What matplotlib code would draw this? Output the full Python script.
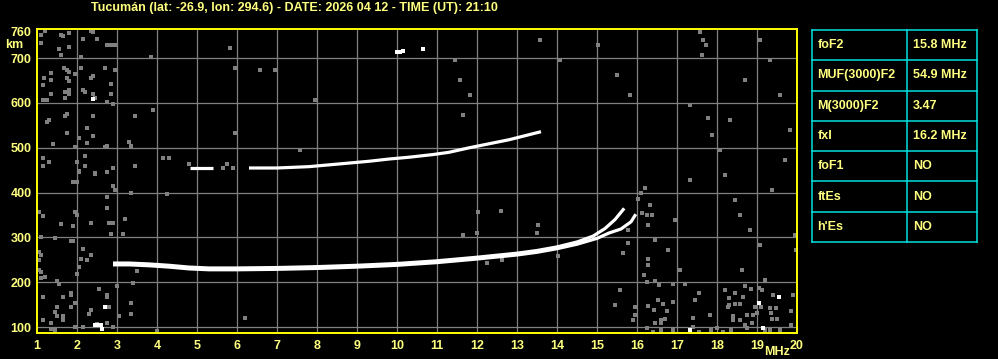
import matplotlib
matplotlib.use("Agg")
import matplotlib.pyplot as plt

plt.rcParams['font.family'] = ['Liberation Sans', 'DejaVu Sans']

TITLE = "Tucumán (lat: -26.9, lon: 294.6) - DATE: 2026 04 12 - TIME (UT): 21:10"

freq_ticks = list(range(1, 21))
height_ticks = [100, 200, 300, 400, 500, 600, 700, 760]

# F2 trace, ordinary and extraordinary parts (MHz, km)
o_freq = [2.9, 3.3, 3.8, 4.3, 4.8, 5.3, 6.0, 7.0, 8.0, 9.0, 10.0, 11.0, 12.0,
          13.0, 13.5, 14.0, 14.5, 14.9, 15.2, 15.45, 15.68]
o_height = [243, 243, 241, 238, 234, 232, 232, 233, 235, 238, 242, 248, 256,
            265, 271, 279, 290, 303, 320, 340, 365]
x_freq = [2.9, 3.3, 3.8, 4.3, 4.8, 5.3, 6.0, 7.0, 8.0, 9.0, 10.0, 11.0, 12.0,
          13.0, 13.5, 14.0, 14.5, 15.0, 15.3, 15.6, 15.85, 15.97]
x_height = [239, 239, 237, 234, 230, 228, 228, 229, 231, 234, 238, 244, 252,
            261, 267, 275, 285, 298, 310, 319, 335, 352]

# second hop echo
hop_freq_a = [4.83, 5.1, 5.4]
hop_height_a = [454, 454, 454]
hop_freq_b = [6.3, 7.0, 7.8, 8.3, 8.8, 9.3, 9.8, 10.3, 10.9, 11.3, 11.8,
              12.3, 12.8, 13.2, 13.6]
hop_height_b = [455, 455, 458, 462, 466, 470, 475, 479, 485, 490, 500,
                509, 518, 527, 536]

# bright single echoes
bright_freq = [10.0, 10.08, 10.16, 10.64, 2.39, 2.69, 19.04, 19.54, 19.14,
               17.33, 2.45, 2.52, 2.6, 2.62]
bright_height = [713, 713, 715, 721, 608, 146, 155, 168, 99, 94, 104, 104,
                 104, 97]

# weak scattered echoes
noise_freq = [
    1.19, 1.09, 1.60, 1.64, 1.79, 1.09, 1.54, 1.79, 1.60, 2.14, 2.49, 2.35,
    2.41, 2.74, 2.84, 2.94, 2.10, 3.85, 1.35, 1.18, 1.35, 1.14, 1.68, 1.74,
    1.79, 1.96, 1.74, 1.79, 1.79, 1.69, 1.79, 1.69, 1.35, 1.14, 1.24, 2.14,
    2.21, 2.41, 2.44, 2.74, 2.89, 2.35, 2.40, 2.69, 2.94, 2.84, 2.84, 2.10,
    1.29, 1.24, 1.69, 1.74, 2.39, 3.44, 3.89, 2.24, 1.74, 2.04, 2.39, 2.24,
    1.39, 1.94, 2.69, 2.74, 3.29, 3.34, 5.94, 5.94, 1.14, 1.29, 1.14, 2.19,
    1.99, 2.19, 2.04, 2.44, 2.74, 2.89, 3.44, 4.14, 4.29, 4.79, 5.64, 5.74,
    5.89,
    2.04, 2.44, 2.74, 1.89, 1.99, 2.89, 2.94, 2.74, 3.34, 4.24, 1.04, 1.14,
    1.94, 1.99, 2.74, 3.19, 1.59, 2.34, 1.89, 2.79, 2.89, 2.84, 3.14, 1.09,
    1.44, 1.84, 1.89, 2.14, 2.34, 2.09, 2.24, 2.04, 1.04, 1.04, 1.09, 1.04,
    1.09, 1.19, 1.09, 1.49, 1.54, 1.99, 3.49, 3.39, 2.99, 1.14, 1.64, 1.84,
    1.84, 2.54, 2.74, 2.74, 2.79, 1.94, 1.84, 1.49, 1.44, 1.49, 1.64, 1.64,
    1.14, 1.34, 2.34, 2.29, 2.74, 3.04, 3.34, 3.34, 1.94, 2.14, 2.89, 1.34,
    1.44, 3.99, 2.49, 6.2,
    16.24, 16.45, 16.89, 17.2, 17.54, 18.7, 18.84, 18.45, 18.66, 18.31, 18.31,
    18.45, 18.58, 19.06, 19.12, 19.41, 19.89, 18.94, 19.09, 19.33, 19.48,
    19.84, 19.34, 18.74, 18.91, 19.0, 18.41, 18.58, 18.39, 18.28, 18.7, 18.87,
    19.37, 19.49, 19.84, 19.2, 19.33, 19.58, 18.74, 17.39, 17.39, 16.91, 16.6,
    16.39, 16.24, 16.7, 16.6, 16.45, 16.6, 16.74, 16.66, 16.91, 16.28, 15.95,
    15.95, 17.56, 17.84, 17.99, 18.16, 18.34,
    12.03, 12.59, 13.53, 13.49, 11.64, 11.99, 14.03, 15.78, 15.78, 15.66,
    16.12, 16.24, 16.28, 16.28, 12.24, 12.62,
    16.03, 16.1, 16.2, 16.33, 16.38, 16.45, 16.28, 16.18, 16.55, 16.53, 16.43,
    17.58, 17.65, 17.73, 17.63, 17.33, 17.78, 17.88, 18.08, 18.2, 18.45,
    18.58, 18.83, 19.08, 19.38, 19.7, 19.83, 19.58, 19.33, 19.08, 18.7, 18.33,
    17.33, 16.95, 16.78, 17.08, 17.45, 17.83, 18.2, 18.63, 19.2, 19.95, 19.98,
    15.58, 15.45, 15.9, 11.58, 11.83, 11.65, 11.45, 15.5, 15.83, 15.03, 14.08,
    13.58, 6.58, 6.95, 5.83, 7.95, 7.58,
]
noise_height = [
    761, 752, 752, 749, 756, 734, 720, 725, 706, 743, 743, 761,
    758, 730, 730, 730, 703, 703, 666, 655, 652, 639, 677, 674,
    670, 665, 656, 648, 630, 624, 620, 612, 621, 607, 607, 630,
    625, 621, 612, 603, 598, 656, 661, 678, 674, 643, 621, 679,
    563, 558, 572, 576, 572, 572, 585, 544, 532, 523, 527, 511,
    508, 501, 501, 505, 514, 505, 532, 679, 478, 469, 460, 481,
    469, 460, 449, 443, 447, 454, 460, 478, 477, 465, 456, 465,
    456,
    447, 442, 447, 423, 423, 414, 405, 391, 400, 396, 356, 347,
    356, 351, 365, 342, 329, 333, 325, 333, 333, 307, 307, 302,
    298, 293, 293, 275, 262, 253, 249, 235, 267, 250, 262, 228,
    222, 213, 209, 202, 197, 218, 226, 198, 191, 168, 168, 177,
    172, 186, 172, 168, 146, 155, 146, 146, 133, 124, 124, 115,
    116, 109, 139, 130, 109, 125, 153, 130, 101, 101, 101, 96,
    93, 91, 107, 121,
    200, 204, 197, 197, 177, 191, 185, 177, 168, 165, 150,
    152, 152, 187, 183, 172, 172, 146, 144, 142, 142,
    135, 131, 127, 127, 131, 124, 116, 116, 146, 105, 109,
    118, 118, 105, 94, 94, 94, 99, 101, 120, 94, 94,
    90, 98, 118, 109, 109, 116, 135, 152, 157, 147, 145,
    127, 90, 94, 98, 90, 94,
    356, 360, 328, 310, 306, 310, 258, 287, 317, 266,
    354, 350, 328, 239, 244, 250,
    386, 400, 411, 373, 350, 295, 251, 217, 195, 161, 139,
    759, 741, 730, 708, 596, 567, 529, 495, 440, 384,
    350, 317, 284, 406, 473, 540, 618, 696, 741, 652, 562,
    429, 339, 272, 228, 161, 127, 183, 228, 206, 306, 272,
    183, 150, 116, 652, 618, 573, 696, 663, 618, 730, 696,
    741, 674, 674, 723, 607, 495,
]

table_labels = ["foF2", "MUF(3000)F2", "M(3000)F2", "fxI", "foF1", "ftEs", "h'Es"]
table_values = ["15.8 MHz", "54.9 MHz", "3.47", "16.2 MHz", "NO", "NO", "NO"]

TEXT = "#ffff80"
EDGE = "#ffff00"
GRID = "#808080"
CYAN = "#00e0e0"

fig = plt.figure(figsize=(9.98, 3.59), dpi=100, facecolor="black")
ax = fig.add_axes([37 / 998, 26 / 359, 760 / 998, 304 / 359])
ax.set_facecolor("black")
ax.set_xlim(1, 20)
ax.set_ylim(87, 765)

for f in freq_ticks[1:-1]:
    ax.axvline(f, color=GRID, lw=0.9, zorder=1)
for h in height_ticks[:-1]:
    ax.axhline(h, color=GRID, lw=0.9, zorder=1)

ax.scatter(noise_freq, noise_height, s=5, marker="s", color=GRID,
           linewidths=0, zorder=2)
ax.scatter(bright_freq, bright_height, s=5, marker="s", color="white",
           linewidths=0, zorder=3)

ax.plot(o_freq, o_height, color="white", lw=2.3, solid_capstyle="butt", zorder=4)
ax.plot(x_freq, x_height, color="white", lw=2.3, solid_capstyle="butt", zorder=4)
ax.plot(hop_freq_a, hop_height_a, color="white", lw=2.3, solid_capstyle="butt", zorder=4)
ax.plot(hop_freq_b, hop_height_b, color="white", lw=2.3, solid_capstyle="butt", zorder=4)

ax.set_xticks(freq_ticks)
ax.set_yticks(height_ticks)
ax.tick_params(length=0, colors=TEXT, labelsize=9)
ax.tick_params(axis="x", pad=5)
ax.tick_params(axis="y", pad=4)
for lab in ax.get_xticklabels() + ax.get_yticklabels():
    lab.set_fontweight("bold")
for sp in ax.spines.values():
    sp.set_color(EDGE)
    sp.set_linewidth(1.4)

fig.text(294 / 998, 1 - 8 / 359, TITLE, color=TEXT, fontsize=9,
         fontweight="bold", ha="center", va="center")
fig.text(14 / 998, 1 - 45 / 359, "km", color=TEXT, fontsize=9,
         fontweight="bold", ha="center", va="center")
fig.text(777 / 998, 1 - 352 / 359, "MHz", color=TEXT, fontsize=9,
         fontweight="bold", ha="center", va="center")

# parameter table
tab = fig.add_axes([812 / 998, 117 / 359, 165 / 998, 212 / 359])
tab.set_xlim(0, 1)
tab.set_ylim(len(table_labels), 0)
tab.axis("off")
for i in range(len(table_labels) + 1):
    tab.plot([0, 1], [i, i], color=CYAN, lw=1.1, clip_on=False)
tab.plot([0, 0], [0, len(table_labels)], color=CYAN, lw=1.1, clip_on=False)
tab.plot([1, 1], [0, len(table_labels)], color=CYAN, lw=1.1, clip_on=False)
tab.plot([0.576, 0.576], [0, len(table_labels)], color=CYAN, lw=1.1, clip_on=False)
for i, (name, val) in enumerate(zip(table_labels, table_values)):
    tab.text(0.033, i + 0.5, name, color=TEXT, fontsize=9, fontweight="bold",
             va="center", ha="left")
    tab.text(0.612, i + 0.5, val, color=TEXT, fontsize=9, fontweight="bold",
             va="center", ha="left")

fig.savefig("out.png", dpi=100, facecolor="black")
